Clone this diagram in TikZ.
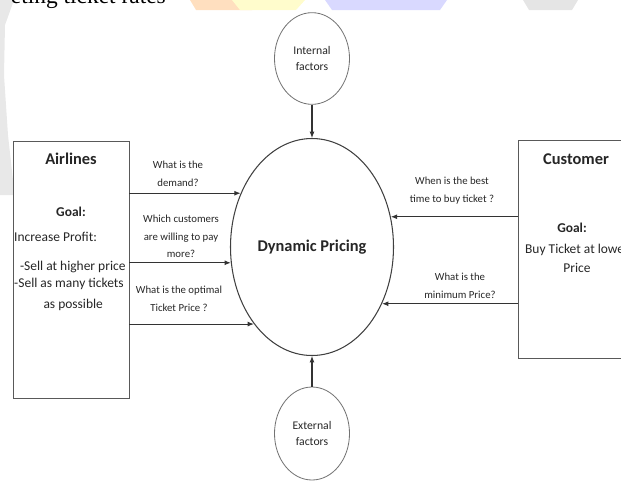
\documentclass[tikz,border=0pt]{standalone}
\usepackage{fontspec}
\setmainfont{Carlito}
\newfontfamily\pagefont{Liberation Serif}
\usetikzlibrary{arrows.meta, positioning, shapes.geometric}

\begin{document}
\begin{tikzpicture}[x=0.3mm, y=-0.3mm,
      every node/.style={text=black!85},
      actor/.style={rectangle, draw=black!65, line width=0.7pt, minimum height=7.71cm},
      process/.style={ellipse, draw=black!75, line width=0.9pt, minimum width=4.89cm, minimum height=6.51cm, inner sep=0pt, font=\bfseries\fontsize{14}{17}\selectfont},
      factor/.style={ellipse, draw=black!55, line width=0.7pt, minimum width=2.25cm, minimum height=2.75cm, inner sep=0pt, align=center, font=\fontsize{10}{13.7}\selectfont},
      title/.style={font=\bfseries\fontsize{14}{17}\selectfont},
      goal/.style={font=\bfseries\fontsize{11.5}{15}\selectfont},
      body/.style={inner sep=0pt, font=\fontsize{11.5}{14.5}\selectfont},
      question/.style={align=center, inner sep=0pt, font=\fontsize{9.2}{15}\selectfont},
      flow/.style={-{Latex[length=1.9mm, width=1.5mm]}, line width=0.9pt, draw=black!80}]

      \useasboundingbox (0,0) rectangle (621,482);
      \clip (0,0) rectangle (621,482);

      % page behind the figure
      \fill[gray!18] (0,0) -- (14,0) -- (5,25) -- (4,75) -- (8,135) -- (13,180) -- (13,195) -- (0,195) -- cycle;
      \fill[orange!25] (190,0) -- (262,0) -- (252,10) -- (196,10) -- cycle;
      \fill[yellow!20] (232,0) -- (305,0) -- (296,10) -- (240,10) -- cycle;
      \fill[blue!15] (325,0) -- (447,0) -- (440,10) -- (332,10) -- cycle;
      \fill[gray!20] (523,0) -- (578,0) -- (572,10) -- (529,10) -- cycle;
      \node[anchor=base east, inner sep=0pt, text=black, font=\pagefont\fontsize{20}{24}\selectfont] (pagetext) at (166,3) {eting ticket rates};

      % Nodes
      \node[actor, minimum width=3.48cm] (airlines) at (71,270) {};
      \node[actor, minimum width=3.66cm, minimum height=6.54cm] (customer) at (579,249) {};
      \node[process] (dp) at (312,247) {Dynamic Pricing};
      \node[factor] (internal) at (312,58.5) {Internal\\factors};
      \node[factor, minimum height=2.79cm] (external) at (312,433.5) {External\\factors};

      % Airlines text
      \node[title] (airtitle) at (71,159) {Airlines};
      \node[goal] (airgoal) at (71,212) {Goal:};
      \node[body, anchor=west, align=left] (airtext) at (14,271) {Increase Profit:\\[10.3pt]
        \hspace{5pt}-Sell at higher price\\
        -Sell as many tickets\\[3.4pt]
        \hspace{25pt}as possible};

      % Customer text
      \node[title] (custtitle) at (576,159) {Customer};
      \node[goal] (custgoal) at (572,228) {Goal:};
      \node[body, align=center, font=\fontsize{11.5}{16}\selectfont] (custtext) at (577,258) {Buy Ticket at lower\\Price};

      % Arrows
      \draw[flow] (internal.south) -- (dp.north);
      \draw[flow] (external.north) -- (dp.south);
      \draw[flow] (dp.143 -| airlines.east) -- (dp.143);
      \draw[flow] (dp.191 -| airlines.east) -- (dp.191);
      \draw[flow] (dp.233 -| airlines.east) -- (dp.233);
      \draw[flow] (dp.21 -| customer.west) -- (dp.21);
      \draw[flow] (dp.321 -| customer.west) -- (dp.321);

      % Questions
      \node[question] (qdemand) at (178,174) {What is the\\demand?};
      \node[question] (qwilling) at (181,236.5) {Which customers\\are willing to pay\\more?};
      \node[question] (qoptimal) at (179,299) {What is the optimal\\Ticket Price ?};
      \node[question] (qtime) at (452,190.5) {When is the best\\time to buy ticket ?};
      \node[question] (qminimum) at (460,286) {What is the\\minimum Price?};
    \end{tikzpicture}
\end{document}
